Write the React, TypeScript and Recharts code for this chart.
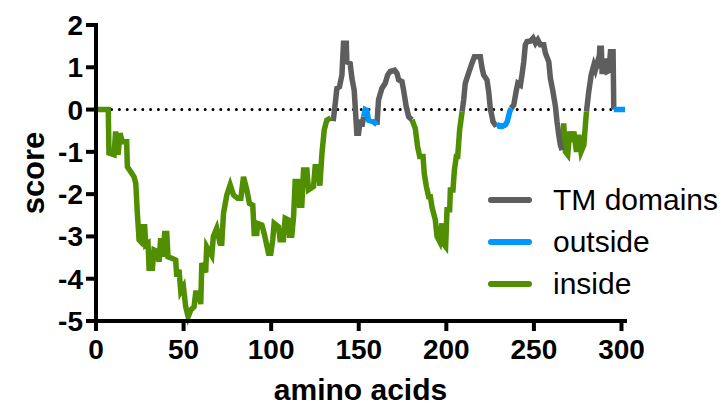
import React from 'react';
import { LineChart, Line, XAxis, YAxis, ReferenceLine, Label } from 'recharts';

// amino-acid positions and hydropathy scores
const positions = [
  0, 7, 7.4, 10.3, 11.2, 12.6, 13.7, 15, 17.5, 17.9, 19.8, 21.7, 22.7, 23.6, 24.6, 25.5, 26.5, 27.8, 28.4, 29.7,
  30.3, 32.2, 33.1, 35, 36, 36.9, 37.9, 39.2, 40.4, 41.1, 43.6, 45.5, 46.1, 47.4, 48.4, 49.9, 51.2, 52.6, 54.1, 56,
  56.9, 58.9, 59.8, 60.4, 62.6, 63.2, 66.1, 67, 68.9, 70.8, 71.8, 72.8, 74.7, 76.6, 78.5, 80.8, 82.7, 84.2, 86.1, 87.6,
  89.5, 90.3, 91.8, 92.2, 94.7, 96, 98.5, 99.8, 100.9, 101.7, 104.2, 105.1, 107, 108, 109.9, 110.5, 111.8, 112.8, 113.7, 115.2,
  116.2, 117.5, 118.5, 120.4, 121.3, 124.2, 125.1, 127, 127.8, 129, 130.3, 131.8, 134.1,
  135.6, 136.6, 137.5, 139, 140.4, 141.3, 142.9, 143.2, 145.1, 146.1, 147.4, 148.9, 149.9, 150.9, 151.8, 152.8,
  153.7, 154.6, 155.6, 158.5, 160.4,
  161.3, 163.2, 165.1, 166.5, 168, 170.5, 171.8, 172.8, 174.7, 175.6, 177.1, 178.5, 180.4,
  182.3, 183.6, 184.8, 186.7, 187.4, 188.6, 189.9, 190.9, 191.8, 193.7, 194.7, 196.2, 197.5, 198.1, 199.6, 200.4, 201.9, 202.3,
  203.8, 204.6, 205.7, 206.5, 207.6, 209,
  209.9, 210.8, 212.7, 214.6, 216, 219.4, 220.4, 221.3, 223.2, 224.2, 225.1, 226.7, 228.6,
  229.9, 231.8, 233.7, 234.7, 236.2, 237,
  238.5, 240, 240.8, 242.3, 243.2, 244.2, 245.1, 246.1, 248, 249.5, 250.9, 252.2, 253.7, 255.6, 256.6, 258.5, 259.4, 260.9,
  262.3, 263.2, 264.2, 265.1, 266.1,
  267, 268, 269.3, 270.5, 271.8, 272.8, 274.3, 275.6, 276.9, 278.5, 279.4, 280,
  281.3, 282.7, 284.2, 285.1, 286.1, 287, 287.6, 288.5, 288.9, 290.3, 290.9, 291.8, 292.8, 293.7, 295.2, 295.6,
  302,
];

const scores = [
  0, 0, -1.03, -1.07, -0.52, -1.07, -0.56, -0.76, -0.76, -1.35, -1.47, -1.59, -1.74, -2.45, -3.08, -3.12, -2.77, -2.77, -3.2, -3.16,
  -3.75, -3.75, -3.32, -3.36, -3.6, -3.04, -3.48, -2.93, -2.93, -3.48, -3.52, -3.56, -3.95, -3.79, -4.3, -4.19, -4.66, -4.9, -4.74, -4.66,
  -4.34, -4.34, -4.6, -3.63, -3.85, -3.24, -3.45, -3.0, -2.81, -3.16, -3.16, -2.45, -2.02, -1.78, -2.02, -2.1, -2.1, -1.59, -1.9, -2.22,
  -2.26, -2.93, -2.93, -2.69, -2.73, -2.93, -3.4, -3.4, -3.08, -2.69, -2.77, -3.08, -3.08, -2.57, -2.61, -2.97, -2.97, -2.53, -1.7, -1.7,
  -2.26, -2.26, -1.43, -1.43, -1.9, -1.82, -1.35, -1.35, -1.8, -1.03, -0.48, -0.25, -0.2,
  -0.21, 0.15, 0.5, 0.54, 0.82, 1.57, 1.57, 1.13, 1.09, 0.74, 0.46, -0.56, -0.56, -0.24, -0.4, -0.17,
  0.0, -0.02, -0.25, -0.29, -0.36,
  0.23, 0.5, 0.62, 0.82, 0.9, 0.93, 0.86, 0.7, 0.66, 0.46, 0.07, -0.17, -0.24,
  -0.45, -0.88, -1.11, -1.11, -1.51, -1.82, -2.06, -2.06, -2.3, -2.61, -3.0, -3.12, -2.69, -3.16, -3.24, -2.37, -2.37, -1.9,
  -1.9, -1.43, -1.11, -1.11, -0.48, -0.05,
  0.23, 0.62, 0.86, 1.09, 1.25, 1.25, 0.98, 0.82, 0.7, 0.42, 0.03, -0.29, -0.4,
  -0.37, -0.4, -0.36, -0.29, -0.05, 0.03,
  0.11, 0.46, 0.62, 0.58, 0.82, 1.13, 1.53, 1.61, 1.62, 1.69, 1.57, 1.65, 1.53, 1.53, 1.33, 1.13, 0.74, 0.42,
  0.07, -0.29, -0.6, -0.84, -0.96,
  -0.33, -1.0, -1.07, -0.52, -0.76, -0.52, -1.0, -0.6, -1.0, -0.84, -0.36, -0.05,
  0.42, 0.82, 1.05, 0.94, 1.09, 0.98, 1.45, 1.45, 0.9, 0.9, 1.21, 0.9, 0.92, 1.37, 1.37, 0,
  0,
];

// topology regions [from, to] in amino-acid positions
const insideRegions = [[0, 134.1], [180.4, 209], [266.1, 280]];
const tmRegions = [[134.1, 152.8], [160.4, 180.4], [209, 228.6], [237, 266.1], [280, 295.6]];
const outsideRegions = [[152.8, 160.4], [228.6, 237], [295.6, 302]];

const xTicks = [0, 50, 100, 150, 200, 250, 300];
const yTicks = [-5, -4, -3, -2, -1, 0, 1, 2];

const COLORS = { tm: '#5E5E5E', outside: '#0096FF', inside: '#4F8F00' };
const legendItems = [
  { key: 'tm', label: 'TM domains' },
  { key: 'outside', label: 'outside' },
  { key: 'inside', label: 'inside' },
];

const inRegions = (p: number, regions: number[][]) => regions.some(([a, b]) => p >= a && p <= b);

const data = positions.map((p, i) => ({
  aa: p,
  inside: inRegions(p, insideRegions) ? scores[i] : null,
  tm: inRegions(p, tmRegions) ? scores[i] : null,
  outside: inRegions(p, outsideRegions) ? scores[i] : null,
}));

const FONT = '"Liberation Sans", Arial, Helvetica, sans-serif';

const YTitle = (props: any) => {
  const vb = props.viewBox || { x: 0, y: 0, width: 0, height: 0 };
  const cx = vb.x + 33;
  const cy = vb.y + vb.height / 2;
  return (
    <text x={cx} y={cy} transform={`rotate(-90 ${cx} ${cy})`} textAnchor="middle" dominantBaseline="central"
      fontFamily={FONT} fontWeight="bold" fontSize={31} fill="#000">score</text>
  );
};

const XTitle = (props: any) => {
  const vb = props.viewBox || { x: 0, y: 0, width: 0, height: 0 };
  return (
    <text x={vb.x + vb.width / 2} y={vb.y + 79} textAnchor="middle"
      fontFamily={FONT} fontWeight="bold" fontSize={30} fill="#000">amino acids</text>
  );
};

const LegendBox = () => (
  <div style={{ position: 'absolute', left: 488, top: 179, width: 240, fontFamily: FONT, fontSize: 30, color: '#000' }}>
    {legendItems.map((it) => (
      <div key={it.key} style={{ display: 'flex', alignItems: 'center', height: 42 }}>
        <div style={{ width: 44, height: 6, borderRadius: 3, background: (COLORS as any)[it.key], marginRight: 21 }} />
        <span style={{ lineHeight: '42px', whiteSpace: 'nowrap' }}>{it.label}</span>
      </div>
    ))}
  </div>
);

export default function App() {
  return (
    <div style={{ position: 'absolute', left: 0, top: 0, width: 725, height: 407, background: '#fff', overflow: 'hidden' }}>
      <LineChart width={725} height={407} data={data} margin={{ top: 25, right: 100, left: 0, bottom: 0 }}>
        <XAxis dataKey="aa" type="number" domain={[0, 302]} ticks={xTicks} interval={0} height={86}
          axisLine={{ stroke: '#000', strokeWidth: 4, strokeLinecap: 'square' }}
          tickLine={{ stroke: '#000', strokeWidth: 4 }} tickSize={10} tickMargin={8}
          tick={{ fill: '#000', fontSize: 28, fontWeight: 'bold', fontFamily: FONT }}>
          <Label content={<XTitle />} />
        </XAxis>
        <YAxis type="number" domain={[-5, 2]} ticks={yTicks} interval={0} width={96}
          axisLine={{ stroke: '#000', strokeWidth: 4, strokeLinecap: 'square' }}
          tickLine={{ stroke: '#000', strokeWidth: 4 }} tickSize={10} tickMargin={3}
          tick={{ fill: '#000', fontSize: 28, fontWeight: 'bold', fontFamily: FONT }}>
          <Label content={<YTitle />} />
        </YAxis>
        <ReferenceLine y={0} stroke="#000" strokeWidth={3} strokeDasharray="0 7.8" strokeLinecap="round" />
        <Line dataKey="inside" stroke={COLORS.inside} strokeWidth={5.5} dot={false} activeDot={false}
          connectNulls={false} isAnimationActive={false} type="linear" />
        <Line dataKey="tm" stroke={COLORS.tm} strokeWidth={5.5} dot={false} activeDot={false}
          connectNulls={false} isAnimationActive={false} type="linear" />
        <Line dataKey="outside" stroke={COLORS.outside} strokeWidth={5.5} dot={false} activeDot={false}
          connectNulls={false} isAnimationActive={false} type="linear" />
      </LineChart>
      <LegendBox />
    </div>
  );
}
